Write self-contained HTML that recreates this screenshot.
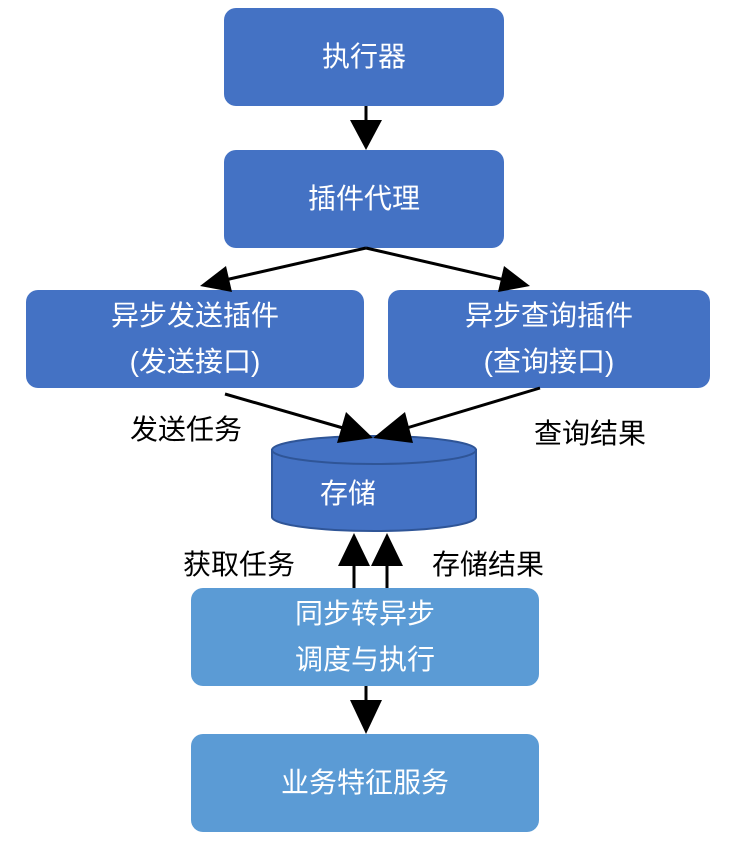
<!DOCTYPE html><html><head><meta charset="utf-8"><style>
body{margin:0;width:738px;height:842px;background:#fff;position:relative;font-family:"Liberation Sans","Noto Sans CJK SC",sans-serif;overflow:hidden}
.b{position:absolute;border-radius:12px;color:#fff;font-size:28px;display:flex;flex-direction:column;align-items:center;justify-content:center;line-height:46px;text-align:center}
.d{background:#4472C4}.l{background:#5B9BD5}
.t{position:absolute;font-size:28px;color:#000}
svg{position:absolute;left:0;top:0}
</style></head><body>
<div class="b d" style="left:224px;top:8px;width:280px;height:98px">执行器</div>
<div class="b d" style="left:224px;top:150px;width:280px;height:98px">插件代理</div>
<div class="b d" style="left:26px;top:290px;width:338px;height:98px"><span>异步发送插件</span><span>(发送接口)</span></div>
<div class="b d" style="left:388px;top:290px;width:322px;height:98px"><span>异步查询插件</span><span>(查询接口)</span></div>
<div class="b l" style="left:191px;top:588px;width:348px;height:98px"><span>同步转异步</span><span>调度与执行</span></div>
<div class="b l" style="left:191px;top:734px;width:348px;height:98px">业务特征服务</div>
<svg width="738" height="842">
<path d="M272 450 L272 517 A102 14 0 0 0 476 517 L476 450 Z" fill="#4472C4" stroke="#2F5597" stroke-width="2"/>
<ellipse cx="374" cy="450" rx="102" ry="14" fill="#4472C4" stroke="#2F5597" stroke-width="2"/>
<g stroke="#000" stroke-width="3" fill="#000">
<line x1="366" y1="106" x2="366" y2="122"/><polygon points="350,120 382,120 366,150" stroke="none"/>
<line x1="366" y1="248" x2="225" y2="280"/><polygon points="200,286 226,266 232,292" stroke="none"/>
<line x1="366" y1="248" x2="505" y2="280"/><polygon points="530,286 498,292 504,266" stroke="none"/>
<line x1="225" y1="394" x2="350" y2="430"/><polygon points="373,438 337,443 346,412" stroke="none"/>
<line x1="540" y1="388" x2="400" y2="430"/><polygon points="373,438 405,412 413,443" stroke="none"/>
<line x1="354" y1="560" x2="354" y2="588"/><polygon points="354,533 338,566 370,566" stroke="none"/>
<line x1="387" y1="560" x2="387" y2="588"/><polygon points="387,533 371,566 403,566" stroke="none"/>
<line x1="366" y1="686" x2="366" y2="702"/><polygon points="350,700 382,700 366,734" stroke="none"/>
</g>
</svg>
<div class="t" style="left:320px;top:472px;color:#fff">存储</div>
<div class="t" style="left:130px;top:408px">发送任务</div>
<div class="t" style="left:534px;top:412px">查询结果</div>
<div class="t" style="left:183px;top:543px">获取任务</div>
<div class="t" style="left:432px;top:543px">存储结果</div>
</body></html>
